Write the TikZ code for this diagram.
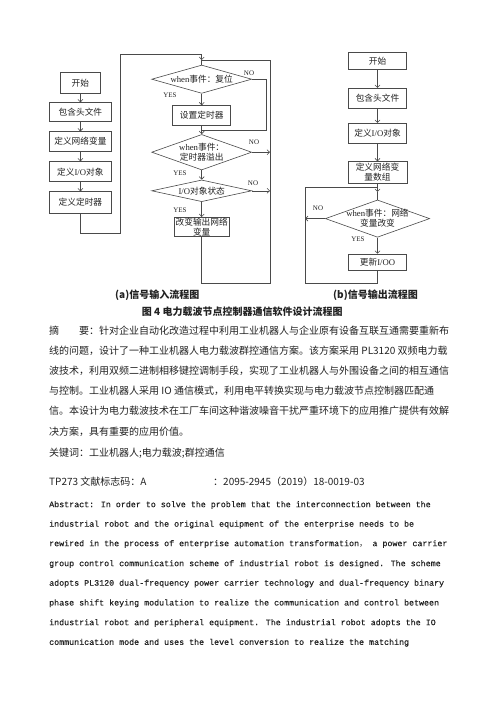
\documentclass[tikz,border=0pt]{standalone}
\usepackage{fontspec}
\setmainfont{Liberation Serif}
\newfontfamily\cjk{Noto Sans CJK SC}
\newfontfamily\mono[FakeBold=0.4]{Liberation Mono}
\usetikzlibrary{shapes.geometric,arrows.meta}
\definecolor{linec}{HTML}{4A4A4A}
\definecolor{txt}{HTML}{222222}
\begin{document}
\begin{tikzpicture}[x=1pt,y=-1pt,
  box/.style={draw=linec, line width=0.6pt, fill=white, inner sep=0pt, minimum width=62pt, minimum height=20pt, font=\fontsize{8.7}{10}\cjk, text=txt, align=center},
  diam/.style={draw=linec, line width=0.6pt, diamond, inner sep=0pt, fill=white},
  dl/.style={font=\fontsize{8.7}{10}\cjk, text=txt, align=center, inner sep=0pt},
  yn/.style={font=\fontsize{7}{8}\selectfont, text=txt, inner sep=0pt},
  flow/.style={draw=linec, line width=0.6pt},
  arr/.style={flow, -{Straight Barb[length=2.6pt,width=5pt]}},
  cn/.style={font=\fontsize{10}{12}\cjk, text=txt, inner sep=0pt, anchor=west},
  capt/.style={font=\fontsize{10}{12}\cjk\bfseries, text=txt, inner sep=0pt, anchor=west},
  en/.style={font=\fontsize{8.33}{10}\mono, text=txt, inner sep=0pt, anchor=west},
]
\useasboundingbox[fill=white] (0,0) rectangle (500,707);

% ---------- (a) left column ----------
\node[box, minimum width=40, minimum height=20.6] (a1) at (80.4,83) {开始};
\node[box, minimum height=19] (a2) at (80.4,112.2) {包含头文件};
\node[box, minimum height=19.3] (a3) at (80.4,141.4) {定义网络变量};
\node[box, minimum height=20] (a4) at (80.4,171.7) {定义{\rmfamily I/O}对象};
\node[box, minimum height=21.6] (a5) at (80.4,202.5) {定义定时器};
\draw[arr] (a1.south) -- (a2.north);
\draw[arr] (a2.south) -- (a3.north);
\draw[arr] (a3.south) -- (a4.north);
\draw[arr] (a4.south) -- (a5.north);

% ---------- (a) right column ----------
\node[diam, minimum width=100, minimum height=28.3,
  label={[dl]center:{\rmfamily when}事件：复位}] (d1) at (201.7,79.2) {};
\node[box, minimum width=58, minimum height=19.3] (s1) at (201.7,115.3) {设置定时器};
\node[diam, minimum width=100, minimum height=35.5,
  label={[dl]center:{\rmfamily when}事件：\\定时器溢出}] (d2) at (201.7,152.2) {};
\node[diam, minimum width=100, minimum height=21.7,
  label={[dl]center:{\rmfamily I/O}对象状态}] (d3) at (201.7,190.8) {};
\node[box, minimum width=55, minimum height=19.4] (s2) at (201.7,227) {改变输出网络\\变量};

\coordinate (la) at (80.4,233);
\coordinate (lb) at (120,233);
\coordinate (lc) at (120,54);
\coordinate (ld) at (201.7,54);
\coordinate (le) at (201.7,60);
\draw[flow] (a5.south) -- (la) -- (lb) -- (lc) -- (ld);
\draw[arr] (ld) -- (le);
\draw[flow] (le) -- (d1.north);

\draw[arr] (d1.south) -- (s1.north);
\node[yn] (y1) at (170,95.5) {YES};
\coordinate (n1a) at (266,79.2);
\coordinate (n1b) at (266,130);
\coordinate (n1c) at (201.7,130);
\draw[flow] (d1.east) -- (n1a) -- (n1b) -- (n1c);
\node[yn] (no1) at (249,73) {NO};
\draw[arr] (s1.south) -- (d2.north);

\coordinate (r2) at (270,152.2);
\coordinate (r3) at (270,190.8);
\draw[arr] (d2.east) -- (r2);
\node[yn] (no2) at (254,142.5) {NO};
\draw[arr] (d2.south) -- (d3.north);
\node[yn] (y2) at (180,173.5) {YES};
\draw[arr] (d3.east) -- (r3);
\node[yn] (no3) at (253,183) {NO};
\draw[arr] (d3.south) -- (s2.north);
\node[yn] (y3) at (180,210) {YES};

\coordinate (ra) at (201.7,283);
\coordinate (rb) at (270,283);
\coordinate (rc) at (270,60);
\draw[flow] (s2.south) -- (ra) -- (rb) -- (rc) -- (le);

% ---------- (b) ----------
\node[box, minimum width=58.4, minimum height=16.6] (b1) at (377.5,61) {开始};
\node[box, minimum width=58.4, minimum height=20] (b2) at (377.5,98.3) {包含头文件};
\node[box, minimum width=58.4, minimum height=20] (b3) at (377.5,133.3) {定义{\rmfamily I/O}对象};
\node[box, minimum width=59, minimum height=21.6] (b4) at (377.5,172.5) {定义网络变\\量数组};
\node[diam, minimum width=104.3, minimum height=37.3,
  label={[dl]center:{\rmfamily when}事件：网络\\变量改变}] (d4) at (377.5,218.6) {};
\node[box, minimum width=58.4, minimum height=16.3] (b5) at (377.5,262.2) {更新{\rmfamily I/OO}};
\draw[arr] (b1.south) -- (b2.north);
\draw[arr] (b2.south) -- (b3.north);
\draw[arr] (b3.south) -- (b4.north);
\coordinate (rj) at (377.5,187.3);
\coordinate (rk) at (377.5,192);
\draw[arr] (b4.south) -- (rk);
\draw[flow] (rk) -- (d4.north);
\coordinate (wl) at (305,218.6);
\draw[arr] (d4.west) -- (wl);
\node[yn] (no4) at (318,208.5) {NO};
\draw[arr] (d4.south) -- (b5.north);
\node[yn] (y4) at (358,239.5) {YES};
\coordinate (bb) at (377.5,283.3);
\coordinate (bc) at (305,283.3);
\coordinate (bd) at (305,187.3);
\draw[flow] (b5.south) -- (bb) -- (bc) -- (bd) -- (rj);

% ---------- captions ----------
\node[capt] (capa) at (115,295.5) {(a)信号输入流程图};
\node[capt] (capb) at (333,295.5) {(b)信号输出流程图};
\node[capt] (cap) at (141.7,312) {图 4 电力载波节点控制器通信软件设计流程图};

% ---------- Chinese abstract ----------
\node[cn] (c1) at (49,330.5) {摘　　要：针对企业自动化改造过程中利用工业机器人与企业原有设备互联互通需要重新布};
\node[cn] (c2) at (49,350.5) {线的问题，设计了一种工业机器人电力载波群控通信方案。该方案采用 PL3120 双频电力载};
\node[cn] (c3) at (49,370.5) {波技术，利用双频二进制相移键控调制手段，实现了工业机器人与外围设备之间的相互通信};
\node[cn] (c4) at (49,390.5) {与控制。工业机器人采用 IO 通信模式，利用电平转换实现与电力载波节点控制器匹配通};
\node[cn] (c5) at (49,410.5) {信。本设计为电力载波技术在工厂车间这种谐波噪音干扰严重环境下的应用推广提供有效解};
\node[cn] (c6) at (49,432) {决方案，具有重要的应用价值。};
\node[cn] (kw) at (49,453.5) {关键词：工业机器人;电力载波;群控通信};
\node[cn] (tp) at (49,481.5) {\makebox[164pt][l]{TP273 文献标志码：A}：2095-2945（2019）18-0019-03};

% ---------- English abstract ----------
\node[en] (e1) at (49,505) {Abstract:  In order to solve the problem that the interconnection between the};
\node[en] (e2) at (49,524.5) {industrial robot and the original equipment of the enterprise needs to be};
\node[en] (e3) at (49,544) {rewired in the process of enterprise automation transformation{\cjk ，} a power carrier};
\node[en] (e4) at (49,564) {group control communication scheme of industrial robot is designed. The scheme};
\node[en] (e5) at (49,583.5) {adopts PL3120 dual-frequency power carrier technology and dual-frequency binary};
\node[en] (e6) at (49,603.3) {phase shift keying modulation to realize the communication and control between};
\node[en] (e7) at (49,623) {industrial robot and peripheral equipment. The industrial robot adopts the IO};
\node[en] (e8) at (49,642.7) {communication mode and uses the level conversion to realize the matching};
\end{tikzpicture}
\end{document}
